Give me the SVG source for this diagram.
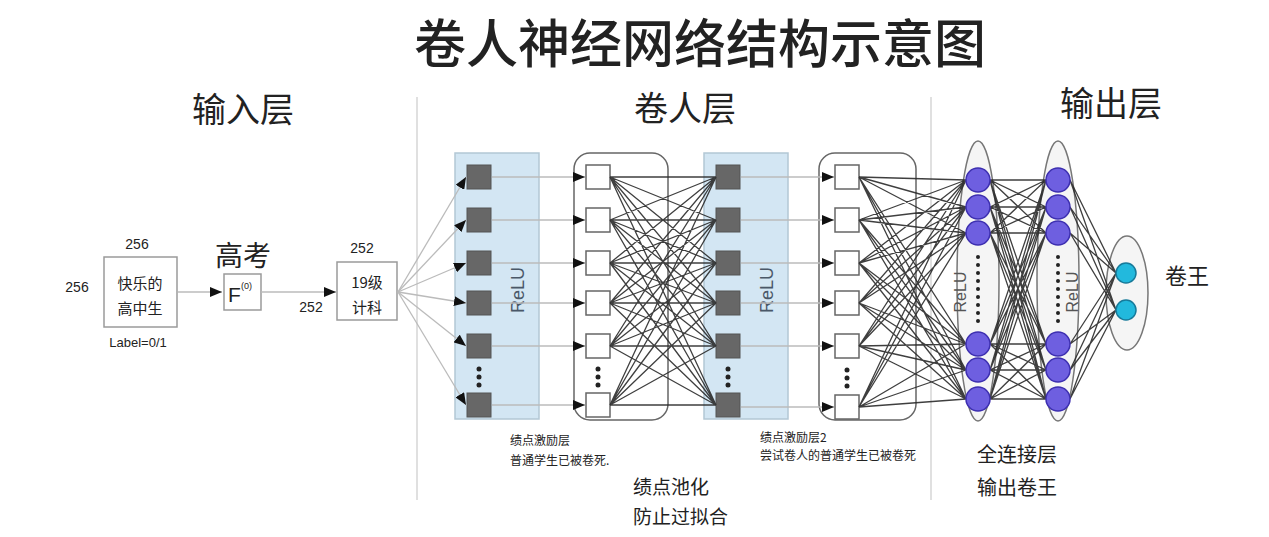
<svg xmlns="http://www.w3.org/2000/svg" width="1269" height="537" viewBox="0 0 1269 537">
<defs>
<marker id="arr" viewBox="0 0 12 10" refX="12" refY="5" markerWidth="12" markerHeight="10" markerUnits="userSpaceOnUse" orient="auto"><path d="M0,0 L12,5 L0,10 z" fill="#111"/></marker>
<style>
text{font-family:"Liberation Sans","Noto Sans CJK SC",sans-serif;fill:#222}
.cjk{font-family:"Noto Sans CJK SC","Liberation Sans",sans-serif}
.sep{stroke:#e0e0e0;stroke-width:2}
.box{fill:#fff;stroke:#9a9a9a;stroke-width:1.5}
.relu{fill:#d3e6f3;stroke:#b3c7d5;stroke-width:1.5}
.dk{fill:#676767;stroke:#555;stroke-width:1}
.wt{fill:#fff;stroke:#666;stroke-width:1.5}
.pool{fill:none;stroke:#666;stroke-width:1.5}
.dot{fill:#222}
.ell{fill:#efefef;fill-opacity:0.6;stroke:#777;stroke-width:1.5}
.pc{fill:#6e5fe0;stroke:#3d2fb0;stroke-width:1.5}
.cc{fill:#22b9dd;stroke:#167a9a;stroke-width:1.5}
.gl{stroke:#bbb;stroke-width:1.3;fill:none}
.fc{stroke:#2a2a2a;stroke-width:1.3;fill:none;stroke-opacity:0.9}
.rl{font-size:18px;fill:#4a5868}
.rl2{font-size:16px;fill:#555}
</style>
</defs>
<rect width="1269" height="537" fill="#fff"/>

<g id="title">
<text class="cjk" x="700" y="63" font-size="52" font-weight="500" text-anchor="middle" fill="#111">卷人神经网络结构示意图</text>
<text class="cjk" x="243" y="122" font-size="34" text-anchor="middle">输入层</text>
<text class="cjk" x="685" y="121" font-size="34" text-anchor="middle">卷人层</text>
<text class="cjk" x="1111" y="116" font-size="34" text-anchor="middle">输出层</text>
<line class="sep" x1="417" y1="97" x2="417" y2="500"/>
<line class="sep" x1="931" y1="97" x2="931" y2="500"/>
</g>

<g id="input">
<rect class="box" x="104" y="257" width="73" height="70"/>
<text x="137" y="249" font-size="14" text-anchor="middle" fill="#444">256</text>
<text x="77" y="292" font-size="14" text-anchor="middle" fill="#444">256</text>
<text class="cjk" x="140" y="289" font-size="15" text-anchor="middle">快乐的</text>
<text class="cjk" x="140" y="314" font-size="15" text-anchor="middle">高中生</text>
<text x="138" y="347" font-size="13" text-anchor="middle" fill="#444">Label=0/1</text>
</g>

<g id="gaokao">
<text class="cjk" x="243" y="266" font-size="28" text-anchor="middle">高考</text>
<rect class="box" x="224" y="274" width="37" height="36"/>
<text x="228" y="302" font-size="21" fill="#444">F</text>
<text x="241" y="289" font-size="9" fill="#444">(0)</text>
</g>

<g id="jike">
<rect class="box" x="337" y="262" width="60" height="58"/>
<text x="362" y="253" font-size="14" text-anchor="middle" fill="#444">252</text>
<text x="311" y="312" font-size="14" text-anchor="middle" fill="#444">252</text>
<text class="cjk" x="367" y="288" font-size="15" text-anchor="middle">19级</text>
<text class="cjk" x="367" y="313" font-size="15" text-anchor="middle">计科</text>
</g>

<g id="relu1">
<rect class="relu" x="455" y="153" width="84" height="266"/>
<rect class="dk" x="467" y="165" width="24" height="24"/>
<rect class="dk" x="467" y="208" width="24" height="24"/>
<rect class="dk" x="467" y="251" width="24" height="24"/>
<rect class="dk" x="467" y="291" width="24" height="24"/>
<rect class="dk" x="467" y="334" width="24" height="24"/>
<rect class="dk" x="467" y="393" width="24" height="24"/>
<circle class="dot" cx="479" cy="369" r="2.5"/><circle class="dot" cx="479" cy="377" r="2.5"/><circle class="dot" cx="479" cy="385" r="2.5"/>
<text class="rl" transform="translate(524,290) rotate(-90)" text-anchor="middle">ReLU</text>
</g>

<g id="pool1">
<rect class="pool" x="574" y="153" width="94" height="267" rx="16"/>
<rect class="wt" x="586" y="165" width="24" height="24"/>
<rect class="wt" x="586" y="208" width="24" height="24"/>
<rect class="wt" x="586" y="251" width="24" height="24"/>
<rect class="wt" x="586" y="291" width="24" height="24"/>
<rect class="wt" x="586" y="334" width="24" height="24"/>
<rect class="wt" x="586" y="393" width="24" height="24"/>
<circle class="dot" cx="598" cy="369" r="2.5"/><circle class="dot" cx="598" cy="377" r="2.5"/><circle class="dot" cx="598" cy="385" r="2.5"/>
</g>

<g id="relu2">
<rect class="relu" x="704" y="153" width="84" height="266"/>
<rect class="dk" x="716" y="165" width="24" height="24"/>
<rect class="dk" x="716" y="208" width="24" height="24"/>
<rect class="dk" x="716" y="251" width="24" height="24"/>
<rect class="dk" x="716" y="291" width="24" height="24"/>
<rect class="dk" x="716" y="334" width="24" height="24"/>
<rect class="dk" x="716" y="393" width="24" height="24"/>
<circle class="dot" cx="728" cy="369" r="2.5"/><circle class="dot" cx="728" cy="377" r="2.5"/><circle class="dot" cx="728" cy="385" r="2.5"/>
<text class="rl" transform="translate(773,290) rotate(-90)" text-anchor="middle">ReLU</text>
</g>

<g id="pool2">
<rect class="pool" x="819" y="153" width="97" height="267" rx="16"/>
<rect class="wt" x="835" y="165" width="24" height="24"/>
<rect class="wt" x="835" y="208" width="24" height="24"/>
<rect class="wt" x="835" y="251" width="24" height="24"/>
<rect class="wt" x="835" y="291" width="24" height="24"/>
<rect class="wt" x="835" y="334" width="24" height="24"/>
<rect class="wt" x="835" y="395" width="24" height="24"/>
<circle class="dot" cx="847" cy="370" r="2.5"/><circle class="dot" cx="847" cy="378" r="2.5"/><circle class="dot" cx="847" cy="386" r="2.5"/>
</g>

<g id="fc1">
<ellipse class="ell" cx="978" cy="281" rx="21" ry="140"/>
<text class="rl2" transform="translate(966,292) rotate(-90)" text-anchor="middle">ReLU</text>
</g>
<g id="fc2">
<ellipse class="ell" cx="1058" cy="281" rx="21" ry="140"/>
<text class="rl2" transform="translate(1078,292) rotate(-90)" text-anchor="middle">ReLU</text>
</g>
<g id="out">
<ellipse class="ell" cx="1127" cy="293" rx="21" ry="57"/>
</g>

<g id="connectors">
<path class="gl" d="M178 292H222" marker-end="url(#arr)"/>
<path class="gl" d="M261 292H336" marker-end="url(#arr)"/>
<g marker-end="url(#arr)">
<path class="gl" d="M398 292L466 177"/>
<path class="gl" d="M398 292L466 220"/>
<path class="gl" d="M398 292L466 263"/>
<path class="gl" d="M398 292L466 303"/>
<path class="gl" d="M398 292L466 346"/>
<path class="gl" d="M398 292L466 405"/>
<path class="gl" d="M492 177H585"/>
<path class="gl" d="M492 220H585"/>
<path class="gl" d="M492 263H585"/>
<path class="gl" d="M492 303H585"/>
<path class="gl" d="M492 346H585"/>
<path class="gl" d="M492 405H585"/>
<path class="gl" d="M741 177H834"/>
<path class="gl" d="M741 220H834"/>
<path class="gl" d="M741 263H834"/>
<path class="gl" d="M741 303H834"/>
<path class="gl" d="M741 346H834"/>
<path class="gl" d="M741 407H834"/>
</g>
<path class="fc" d="M610 177L716 177M610 177L716 220M610 177L716 263M610 177L716 303M610 177L716 346M610 177L716 405
M610 220L716 177M610 220L716 220M610 220L716 263M610 220L716 303M610 220L716 346M610 220L716 405
M610 263L716 177M610 263L716 220M610 263L716 263M610 263L716 303M610 263L716 346M610 263L716 405
M610 303L716 177M610 303L716 220M610 303L716 263M610 303L716 303M610 303L716 346M610 303L716 405
M610 346L716 177M610 346L716 220M610 346L716 263M610 346L716 303M610 346L716 346M610 346L716 405
M610 405L716 177M610 405L716 220M610 405L716 263M610 405L716 303M610 405L716 346M610 405L716 405"/>
<path class="fc" d="M859 177L966 180M859 177L966 207M859 177L966 233M859 177L966 344M859 177L966 370M859 177L966 399
M859 220L966 180M859 220L966 207M859 220L966 233M859 220L966 344M859 220L966 370M859 220L966 399
M859 263L966 180M859 263L966 207M859 263L966 233M859 263L966 344M859 263L966 370M859 263L966 399
M859 303L966 180M859 303L966 207M859 303L966 233M859 303L966 344M859 303L966 370M859 303L966 399
M859 346L966 180M859 346L966 207M859 346L966 233M859 346L966 344M859 346L966 370M859 346L966 399
M859 407L966 180M859 407L966 207M859 407L966 233M859 407L966 344M859 407L966 370M859 407L966 399"/>
<path class="fc" d="M990 180L1046 180M990 180L1046 207M990 180L1046 233M990 180L1046 344M990 180L1046 370M990 180L1046 399
M990 207L1046 180M990 207L1046 207M990 207L1046 233M990 207L1046 344M990 207L1046 370M990 207L1046 399
M990 233L1046 180M990 233L1046 207M990 233L1046 233M990 233L1046 344M990 233L1046 370M990 233L1046 399
M990 344L1046 180M990 344L1046 207M990 344L1046 233M990 344L1046 344M990 344L1046 370M990 344L1046 399
M990 370L1046 180M990 370L1046 207M990 370L1046 233M990 370L1046 344M990 370L1046 370M990 370L1046 399
M990 399L1046 180M990 399L1046 207M990 399L1046 233M990 399L1046 344M990 399L1046 370M990 399L1046 399"/>
<path class="fc" d="M1070 180L1116 273M1070 207L1116 273M1070 233L1116 273M1070 344L1116 273M1070 370L1116 273M1070 399L1116 273
M1070 180L1116 310M1070 207L1116 310M1070 233L1116 310M1070 344L1116 310M1070 370L1116 310M1070 399L1116 310"/>
</g>

<g id="fc1-neurons">
<circle class="pc" cx="978" cy="180" r="12"/>
<circle class="pc" cx="978" cy="207" r="12"/>
<circle class="pc" cx="978" cy="233" r="12"/>
<circle class="pc" cx="978" cy="344" r="12"/>
<circle class="pc" cx="978" cy="370" r="12"/>
<circle class="pc" cx="978" cy="399" r="12"/>
<g class="dot"><circle cx="978" cy="257" r="2"/><circle cx="978" cy="265" r="2"/><circle cx="978" cy="273" r="2"/><circle cx="978" cy="281" r="2"/><circle cx="978" cy="289" r="2"/><circle cx="978" cy="297" r="2"/><circle cx="978" cy="305" r="2"/><circle cx="978" cy="313" r="2"/><circle cx="978" cy="321" r="2"/></g>
</g>
<g id="fc2-neurons">
<circle class="pc" cx="1058" cy="180" r="12"/>
<circle class="pc" cx="1058" cy="207" r="12"/>
<circle class="pc" cx="1058" cy="233" r="12"/>
<circle class="pc" cx="1058" cy="344" r="12"/>
<circle class="pc" cx="1058" cy="370" r="12"/>
<circle class="pc" cx="1058" cy="399" r="12"/>
<g class="dot"><circle cx="1058" cy="257" r="2"/><circle cx="1058" cy="265" r="2"/><circle cx="1058" cy="273" r="2"/><circle cx="1058" cy="281" r="2"/><circle cx="1058" cy="289" r="2"/><circle cx="1058" cy="297" r="2"/><circle cx="1058" cy="305" r="2"/><circle cx="1058" cy="313" r="2"/><circle cx="1058" cy="321" r="2"/></g>
</g>
<g id="out-neurons">
<circle class="cc" cx="1126" cy="273" r="10"/>
<circle class="cc" cx="1126" cy="310" r="10"/>
<text class="cjk" x="1187" y="284" font-size="22" text-anchor="middle">卷王</text>
</g>

<g id="labels">
<text class="cjk" x="510" y="445" font-size="12">绩点激励层</text>
<text class="cjk" x="510" y="465" font-size="12">普通学生已被卷死.</text>
<text class="cjk" x="760" y="442" font-size="12">绩点激励层2</text>
<text class="cjk" x="760" y="460" font-size="12">尝试卷人的普通学生已被卷死</text>
<text class="cjk" x="633" y="494" font-size="19">绩点池化</text>
<text class="cjk" x="633" y="524" font-size="19">防止过拟合</text>
<text class="cjk" x="1017" y="462" font-size="20" text-anchor="middle">全连接层</text>
<text class="cjk" x="1017" y="495" font-size="20" text-anchor="middle">输出卷王</text>
</g>
</svg>
